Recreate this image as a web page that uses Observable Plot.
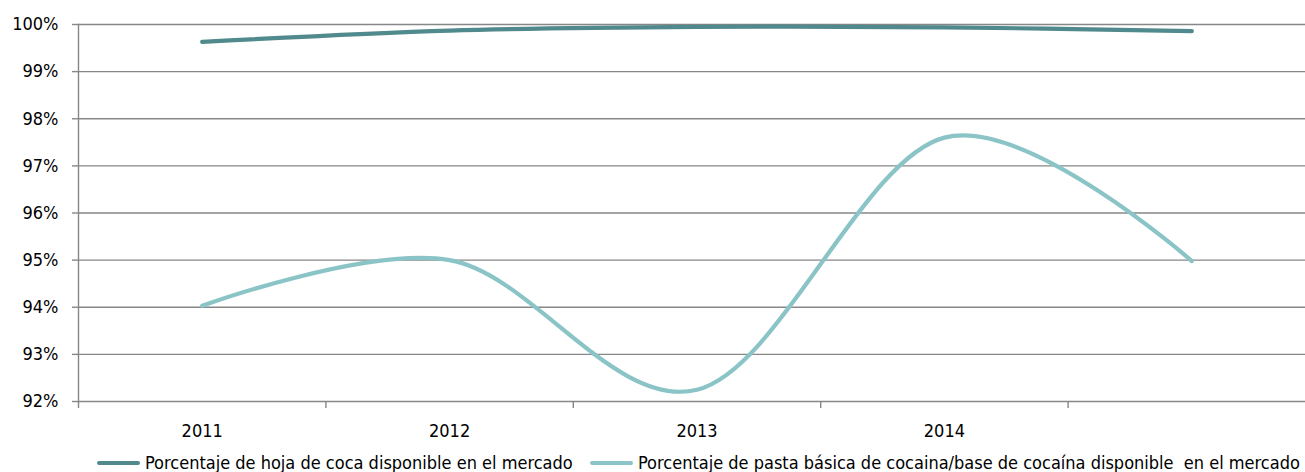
<!DOCTYPE html>
<html>
<head>
<meta charset="utf-8">
<script src="https://cdn.jsdelivr.net/npm/d3@7"></script>
<script src="https://cdn.jsdelivr.net/npm/@observablehq/plot@0.6"></script>
<style>
  html, body { margin: 0; padding: 0; background: #fff; overflow: hidden; }
  #chart { width: 1305px; }
  .legend { position: relative; height: 27px; width: 1305px;
    font-family: "DejaVu Sans Condensed", "Liberation Sans Narrow", sans-serif;
    font-size: 18px; color: #000; }
  .item { position: absolute; top: 4px; display: flex; align-items: center; height: 27px; white-space: pre; }
  .sw { width: 43px; height: 4px; border-radius: 2px; margin-right: 5px; }
</style>
</head>
<body>
<div id="chart"></div>
<script>
const years = [2011, 2012, 2013, 2014, 2015];
const xLabels = ["2011", "2012", "2013", "2014", ""];
const hoja = [99.63, 99.87, 99.95, 99.94, 99.86];
const pasta = [94.03, 95.0, 92.25, 97.6, 94.98];
const yTicks = [92, 93, 94, 95, 96, 97, 98, 99, 100];
const seriesNames = [
  "Porcentaje de hoja de coca disponible en el mercado",
  "Porcentaje de pasta básica de cocaina/base de cocaína disponible  en el mercado"
];
const colors = ["#518a8c", "#8bc4c6"];

const data = years.map((year, i) => ({year, hoja: hoja[i], pasta: pasta[i]}));
const bounds = years.map(y => y - 0.5);
const font = '"DejaVu Sans Condensed", "Liberation Sans Narrow", sans-serif';
const grid = "#878787";
const smooth = d3.curveCatmullRom.alpha(0);

const chart = Plot.plot({
  width: 1305,
  height: 445,
  marginLeft: 78,
  marginTop: 24,
  marginBottom: 44,
  marginRight: 0,
  x: {domain: [2010.5, 2015.5], range: [78, 1315], label: null},
  y: {domain: [92, 100], label: null},
  style: {fontFamily: font, fontSize: "18px", color: "#000", background: "#fff"},
  marks: [
    Plot.gridY(yTicks, {stroke: grid, strokeOpacity: 1, strokeWidth: 1.4}),
    Plot.frame({anchor: "left", stroke: grid, strokeWidth: 1.4}),
    Plot.axisY(yTicks, {tickSize: 6, tickPadding: 14, tickFormat: d => d + "%", stroke: grid, strokeWidth: 1.4, label: null}),
    Plot.axisX(bounds, {tickSize: 7, tickFormat: () => "", stroke: grid, strokeWidth: 1.4, label: null}),
    Plot.axisX(years, {tickSize: 0, tickPadding: 23, tickFormat: d => xLabels[years.indexOf(d)], label: null}),
    Plot.lineY(data, {x: "year", y: "pasta", stroke: colors[1], strokeWidth: 4.2, strokeLinecap: "round", curve: smooth}),
    Plot.lineY(data, {x: "year", y: "hoja", stroke: colors[0], strokeWidth: 4.2, strokeLinecap: "round", curve: smooth})
  ]
});
document.getElementById("chart").append(chart);

const legend = document.createElement("div");
legend.className = "legend";
const lefts = [97, 590];
seriesNames.forEach((name, i) => {
  const item = document.createElement("div");
  item.className = "item";
  item.style.left = lefts[i] + "px";
  const sw = document.createElement("span");
  sw.className = "sw";
  sw.style.background = colors[i];
  const t = document.createElement("span");
  t.textContent = name;
  item.append(sw, t);
  legend.append(item);
});
document.body.append(legend);
</script>
</body>
</html>
